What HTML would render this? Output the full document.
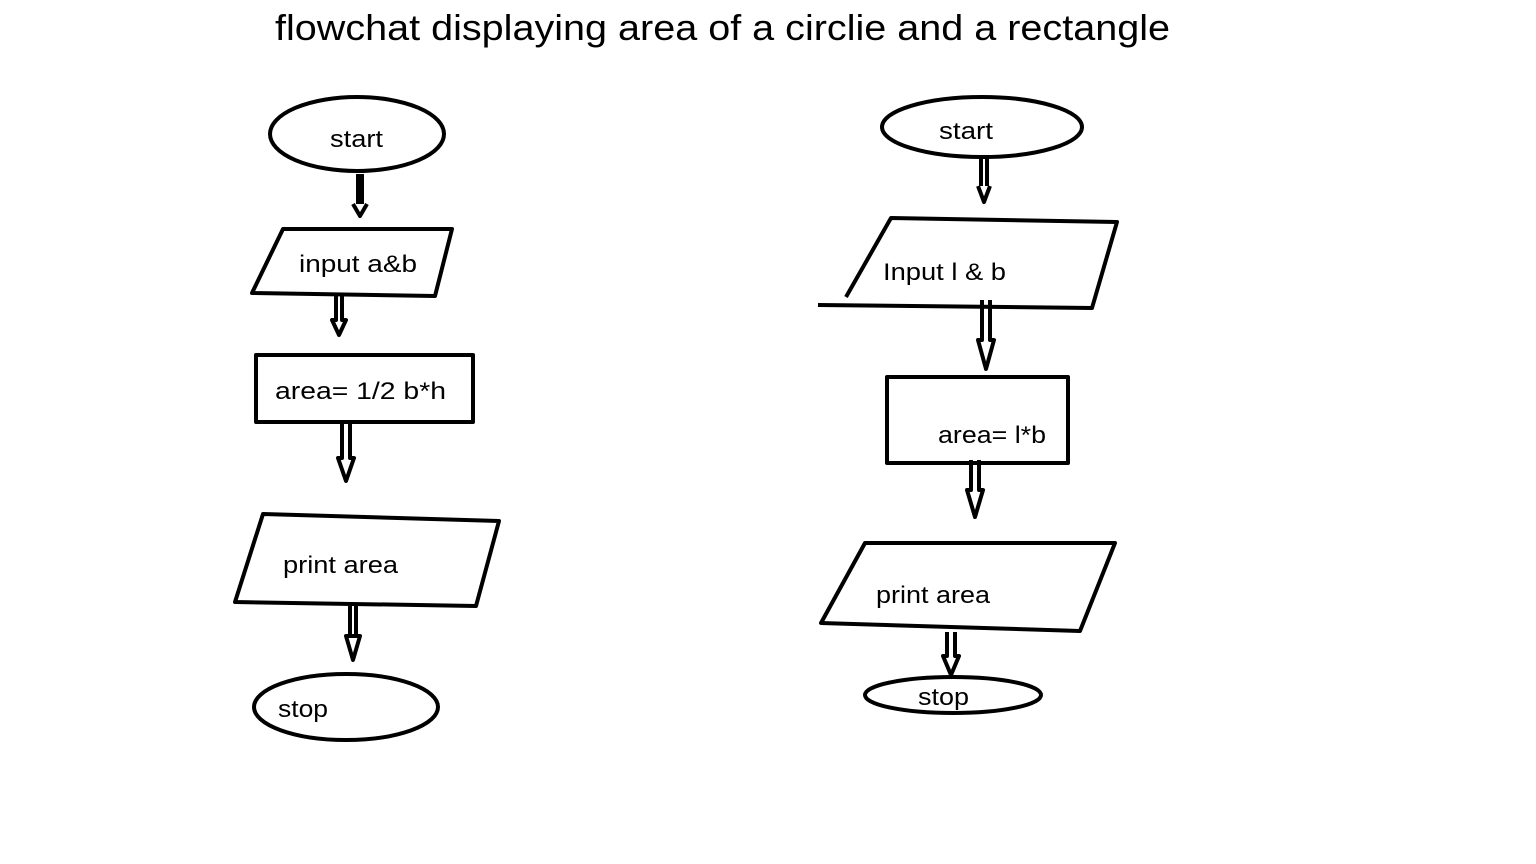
<!DOCTYPE html>
<html><head><meta charset="utf-8"><style>
html,body{margin:0;padding:0;background:#fff;}
svg{display:block;}
text{font-family:"Liberation Sans","DejaVu Sans",sans-serif;fill:#000;}
</style></head><body>
<svg width="1536" height="864" viewBox="0 0 1536 864">
<text x="275" y="40" font-size="36" textLength="895" lengthAdjust="spacingAndGlyphs">flowchat displaying area of a circlie and a rectangle</text>
<g fill="none" stroke="#000" stroke-width="4" stroke-linejoin="round">
<ellipse cx="357" cy="134" rx="87" ry="37"/>
<path d="M358,174 L358,204 M362,174 L362,204 M353,204 L360,216 L367,204"/>
<path d="M283,229 L452,229 L435,296 L252,293 Z"/>
<path d="M336,296 L336,320 L332,320 L339,335 L346,320 L342,320 L342,296"/>
<rect x="256" y="355" width="217" height="67"/>
<path d="M342,424 L342,458 L338,458 L346,481 L354,458 L350,458 L350,424"/>
<path d="M263,514 L499,521 L476,606 L235,602 Z"/>
<path d="M350,606 L350,636 L356,636 L356,606 M346,636 L353,660 L360,636 Z"/>
<ellipse cx="346" cy="707" rx="92" ry="33"/>
</g>
<g font-size="24" lengthAdjust="spacingAndGlyphs">
<text x="330" y="147" textLength="53" lengthAdjust="spacingAndGlyphs">start</text>
<text x="299" y="272" textLength="118" lengthAdjust="spacingAndGlyphs">input a&amp;b</text>
<text x="275" y="399" textLength="171" lengthAdjust="spacingAndGlyphs">area= 1/2  b*h</text>
<text x="283" y="573" textLength="115" lengthAdjust="spacingAndGlyphs">print area</text>
<text x="278" y="717" textLength="50" lengthAdjust="spacingAndGlyphs">stop</text>
</g>
<g fill="none" stroke="#000" stroke-width="4" stroke-linejoin="round">
<ellipse cx="982" cy="127" rx="100" ry="30"/>
<path d="M981,158 L981,186 M987,158 L987,186 M978,186 L984,202 L990,186"/>
<path d="M846,297 L891,218 L1117,222 L1092,308 L818,305"/>
<path d="M982,300 L982,340 L978,340 L986,369 L994,340 L990,340 L990,300"/>
<rect x="887" y="377" width="181" height="86"/>
<path d="M971,460 L971,490 L967,490 L975,517 L983,490 L979,490 L979,460"/>
<path d="M865,543 L1115,543 L1080,631 L821,623 Z"/>
<path d="M947,632 L947,656 L943,656 L951,675 L959,656 L955,656 L955,632"/>
<ellipse cx="953" cy="695" rx="88" ry="18"/>
</g>
<g font-size="24">
<text x="939" y="139" textLength="54" lengthAdjust="spacingAndGlyphs">start</text>
<text x="883" y="280" textLength="123" lengthAdjust="spacingAndGlyphs">Input l &amp; b</text>
<text x="938" y="443" textLength="108" lengthAdjust="spacingAndGlyphs">area= l*b</text>
<text x="876" y="603" textLength="114" lengthAdjust="spacingAndGlyphs">print area</text>
<text x="918" y="705" textLength="51" lengthAdjust="spacingAndGlyphs">stop</text>
</g>
</svg>
</body></html>
